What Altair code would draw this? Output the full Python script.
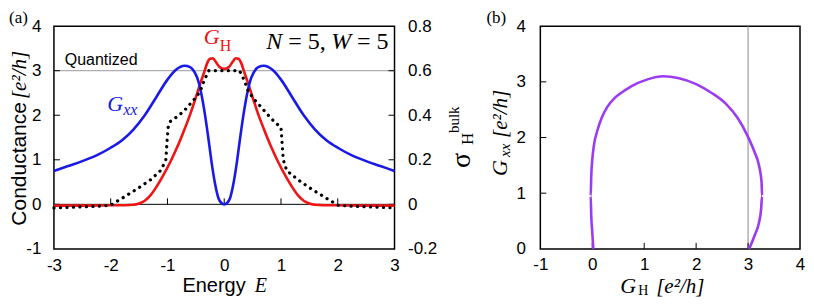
import altair as alt
import pandas as pd

SANS = "Liberation Sans"
SERIF = "Liberation Serif"

# ---------------- data ----------------
E_xx = [-3.0, -2.75, -2.5, -2.25, -2.0, -1.8, -1.6, -1.4, -1.2, -1.0, -0.85, -0.7, -0.6, -0.52, -0.45,
        -0.4, -0.34, -0.28, -0.22, -0.16, -0.1, -0.05, 0.0, 0.05, 0.1, 0.16, 0.22, 0.28, 0.34, 0.4,
        0.45, 0.52, 0.6, 0.7, 0.85, 1.0, 1.2, 1.4, 1.6, 1.8, 2.0, 2.25, 2.5, 2.75, 3.0]
G_xx = [0.75, 0.86, 0.97, 1.10, 1.27, 1.44, 1.68, 2.00, 2.40, 2.80, 3.02, 3.11, 3.08, 2.96, 2.74,
        2.46, 2.02, 1.49, 0.92, 0.45, 0.13, 0.03, 0.0, 0.03, 0.13, 0.45, 0.92, 1.49, 2.02, 2.46,
        2.74, 2.96, 3.08, 3.11, 3.02, 2.80, 2.40, 2.00, 1.68, 1.44, 1.27, 1.10, 0.97, 0.86, 0.75]

E_h = [-3.0, -2.5, -2.0, -1.75, -1.6, -1.5, -1.4, -1.3, -1.2, -1.07, -0.95, -0.83, -0.72, -0.6, -0.5,
       -0.42, -0.35, -0.3, -0.25, -0.2, -0.15, -0.08, 0.0, 0.08, 0.15, 0.2, 0.25, 0.3, 0.35, 0.42,
       0.5, 0.6, 0.72, 0.83, 0.95, 1.07, 1.2, 1.3, 1.4, 1.5, 1.6, 1.75, 2.0, 2.5, 3.0]
G_h = [-0.03, -0.03, -0.02, -0.02, -0.01, 0.02, 0.08, 0.2, 0.38, 0.66, 0.95, 1.28, 1.62, 2.02, 2.40,
       2.72, 2.98, 3.17, 3.27, 3.28, 3.20, 3.08, 3.04, 3.08, 3.20, 3.28, 3.27, 3.17, 2.98, 2.72,
       2.40, 2.02, 1.62, 1.28, 0.95, 0.66, 0.38, 0.2, 0.08, 0.02, -0.01, -0.02, -0.02, -0.03, -0.03]

E_s = [-3.0, -2.8, -2.6, -2.4, -2.2, -2.0, -1.9, -1.77, -1.53, -1.3, -1.12, -1.03, -0.99, -0.95, -0.85,
       -0.72, -0.54, -0.43, -0.34, -0.27, 0.0, 0.27, 0.34, 0.43, 0.54, 0.72, 0.85, 0.95, 1.0, 1.04,
       1.1, 1.3, 1.53, 1.77, 1.9, 2.0, 2.2, 2.4, 2.6, 2.8, 3.0]
S_bulk = [-0.016, -0.014, -0.012, -0.010, -0.008, -0.004, 0.012, 0.032, 0.070, 0.110, 0.152, 0.196,
          0.344, 0.372, 0.390, 0.416, 0.468, 0.504, 0.564, 0.600, 0.600, 0.600, 0.564, 0.504, 0.468,
          0.416, 0.380, 0.356, 0.344, 0.200, 0.152, 0.110, 0.070, 0.032, 0.012, -0.004, -0.008,
          -0.010, -0.012, -0.014, -0.016]

GH_b = [0.02, 0.0, -0.02, -0.03, -0.02, 0.0, 0.03, 0.1, 0.18, 0.29, 0.42, 0.54, 0.75, 1.05, 1.37,
        1.65, 2.0, 2.3, 2.57, 2.8, 2.99, 3.12, 3.21, 3.26, 3.27, 3.25, 3.21, 3.13, 3.02]
GXX_b = [0.0, 0.3, 0.6, 0.95, 1.3, 1.6, 1.85, 2.13, 2.35, 2.55, 2.70, 2.79, 2.92, 3.04, 3.10,
         3.07, 2.96, 2.80, 2.61, 2.35, 2.03, 1.75, 1.5, 1.2, 0.95, 0.7, 0.47, 0.25, 0.0]

XA_TICKS = [-3, -2, -1, 0, 1, 2, 3]
YA_TICKS = [-1, 0, 1, 2, 3, 4]
YR_TICKS = [-0.2, 0, 0.2, 0.4, 0.6, 0.8]
XB_TICKS = [-1, 0, 1, 2, 3, 4]
YB_TICKS = [0, 1, 2, 3, 4]
QUANTIZED = 3

BLUE = "#1a1ae6"
RED = "#f01414"
PURPLE = "#9b3cf2"

dummy = pd.DataFrame({"a": [0]})


def axis(values, orient, pad):
    return alt.Axis(values=values, orient=orient, title=None, ticks=False, tickSize=0, domain=False,
                    grid=False, labelPadding=pad, labelFontSize=17, labelFont=SANS, labelColor="black",
                    labelFlush=False, labelOverlap=False, labelExpr="'' + datum.value")


AXA_X = axis(XA_TICKS, "bottom", 9)
AXA_Y = axis(YA_TICKS, "left", 13)
AXA_R = axis(YR_TICKS, "right", 13)
AXB_X = axis(XB_TICKS, "bottom", 8)
AXB_Y = axis(YB_TICKS, "left", 15)


def xa(f):
    return alt.X(f, type="quantitative", scale=alt.Scale(domain=[-3, 3], nice=False, zero=False), axis=AXA_X)


def ya(f):
    return alt.Y(f, type="quantitative", scale=alt.Scale(domain=[-1, 4], nice=False, zero=False), axis=AXA_Y)


def xb(f):
    return alt.X(f, type="quantitative", scale=alt.Scale(domain=[-1, 4], nice=False, zero=False), axis=AXB_X)


def yb(f):
    return alt.Y(f, type="quantitative", scale=alt.Scale(domain=[0, 4], nice=False, zero=False), axis=AXB_Y)


def ptext(px, py, txt, size, font=SERIF, style="normal", color="black", angle=0, align="left",
          baseline="alphabetic"):
    return alt.Chart(dummy).mark_text(text=txt, fontSize=size, font=font, fontStyle=style, color=color,
                                      angle=angle, align=align, baseline=baseline).encode(
        x=alt.value(px), y=alt.value(py))


def dtext(xv, yv, txt, size, xf, yf, font=SERIF, style="normal", color="black", dx=0, dy=0):
    return alt.Chart(pd.DataFrame({"x": [xv], "y": [yv]})).mark_text(
        text=txt, fontSize=size, font=font, fontStyle=style, color=color, align="left",
        baseline="alphabetic", dx=dx, dy=dy).encode(x=xf("x"), y=yf("y"))


WA, WB, H = 341, 260, 223

# ---------------- panel (a) ----------------
df_xx = pd.DataFrame({"E": E_xx, "G": G_xx})
df_h = pd.DataFrame({"E": E_h, "G": G_h})
df_s = pd.DataFrame({"E": E_s, "S": S_bulk})

quant = alt.Chart(pd.DataFrame({"q": [QUANTIZED]})).mark_rule(color="#9a9a9a", strokeWidth=1).encode(y=ya("q"))
zero = alt.Chart(pd.DataFrame({"q": [0]})).mark_rule(color="black", strokeWidth=1).encode(y=ya("q"))

tick_bot = alt.Chart(pd.DataFrame({"t": [-2, -1, 0, 1, 2], "z": [0] * 5})).mark_rule(
    color="black", strokeWidth=1, y2Offset=-6).encode(x=xa("t"), y=ya("z"), y2=alt.Y2("z"))
tick_l = alt.Chart(pd.DataFrame({"t": [0, 1, 2, 3], "x0": [-3] * 4})).mark_rule(
    color="black", strokeWidth=1, x2Offset=6).encode(x=xa("x0"), x2=alt.X2("x0"), y=ya("t"))
tick_r = alt.Chart(pd.DataFrame({"t": [0, 1, 2, 3], "x0": [3] * 4})).mark_rule(
    color="black", strokeWidth=1, x2Offset=-6).encode(x=xa("x0"), x2=alt.X2("x0"), y=ya("t"))

line_xx = alt.Chart(df_xx).mark_line(color=BLUE, strokeWidth=2.6, interpolate="monotone").encode(
    x=xa("E"), y=ya("G"))
line_h = alt.Chart(df_h).mark_line(color=RED, strokeWidth=2.6, interpolate="monotone").encode(
    x=xa("E"), y=ya("G"))

left_layer = alt.layer(
    quant, zero, tick_bot, tick_l, tick_r, line_h, line_xx,
    dtext(-2.81, 3.13, "Quantized", 16, xa, ya, font=SANS),
    dtext(-2.06, 2.09, "G", 22, xa, ya, style="italic", color=BLUE),
    dtext(-2.06, 2.09, "xx", 16, xa, ya, style="italic", color=BLUE, dx=16, dy=4),
    dtext(-0.36, 3.6, "G", 22, xa, ya, style="italic", color=RED),
    dtext(-0.36, 3.6, "H", 16, xa, ya, color=RED, dx=16, dy=7),
    dtext(0.74, 3.49, "N", 24, xa, ya, style="italic"),
    dtext(0.74, 3.49, "= 5,", 24, xa, ya, dx=22),
    dtext(0.74, 3.49, "W", 24, xa, ya, style="italic", dx=65),
    dtext(0.74, 3.49, "= 5", 24, xa, ya, dx=91),
    ptext(-45, -16, "(a)", 17, baseline="top"),
    ptext(-34, 76, "Conductance", 21, font=SANS, angle=270, align="right", baseline="middle"),
    ptext(-34, 73, "[e²/h]", 21, style="italic", angle=270, align="left", baseline="middle"),
    ptext(192, 266, "Energy", 20, font=SANS, align="right"),
    ptext(201, 266, "E", 20, style="italic"),
    ptext(WA + 76, 142, "σ", 28, angle=270),
    ptext(WA + 79, 119, "H", 17, angle=270),
    ptext(WA + 65, 107, "bulk", 15, angle=270),
)

right_layer = alt.Chart(df_s).mark_line(color="black", strokeWidth=3.2, strokeDash=[0.1, 6.4],
                                        strokeCap="round").encode(
    x=xa("E"),
    y=alt.Y("S:Q", scale=alt.Scale(domain=[-0.2, 0.8], nice=False, zero=False), axis=AXA_R))

panel_a = alt.layer(left_layer, right_layer).resolve_scale(y="independent").properties(width=WA, height=H)

# ---------------- panel (b) ----------------
df_b = pd.DataFrame({"GH": GH_b, "GXX": GXX_b, "i": list(range(len(GH_b)))})

vline = alt.Chart(pd.DataFrame({"q": [QUANTIZED]})).mark_rule(color="#8a8a8a", strokeWidth=1).encode(x=xb("q"))
tick_bb = alt.Chart(pd.DataFrame({"t": [0, 1, 2, 3], "z": [0] * 4})).mark_rule(
    color="black", strokeWidth=1, y2Offset=-6).encode(x=xb("t"), y=yb("z"), y2=alt.Y2("z"))
tick_bl = alt.Chart(pd.DataFrame({"t": [1, 2, 3], "x0": [-1] * 3})).mark_rule(
    color="black", strokeWidth=1, x2Offset=6).encode(x=xb("x0"), x2=alt.X2("x0"), y=yb("t"))
line_b = alt.Chart(df_b).mark_line(color=PURPLE, strokeWidth=2.6, interpolate="monotone").encode(
    x=xb("GH"), y=yb("GXX"), order="i:Q")

panel_b = alt.layer(
    vline, tick_bb, tick_bl, line_b,
    ptext(-54, -16, "(b)", 17, baseline="top"),
    ptext(-33, 150, "G", 22, style="italic", angle=270),
    ptext(-30, 131, "xx", 15, style="italic", angle=270),
    ptext(-33, 112, "[e²/h]", 21, style="italic", angle=270),
    ptext(80, 267, "G", 22, style="italic"),
    ptext(98, 269, "H", 14),
    ptext(116, 267, "[e²/h]", 21, style="italic"),
).properties(width=WB, height=H)

chart = alt.hconcat(panel_a, panel_b, spacing=146, bounds="flush").properties(
    padding={"left": 0, "top": 0, "right": 0, "bottom": 0}
).configure_view(stroke="black", strokeWidth=1.5).configure_axis(labelColor="black")

chart.save("out.html", embed_options={"renderer": "svg", "actions": False})
